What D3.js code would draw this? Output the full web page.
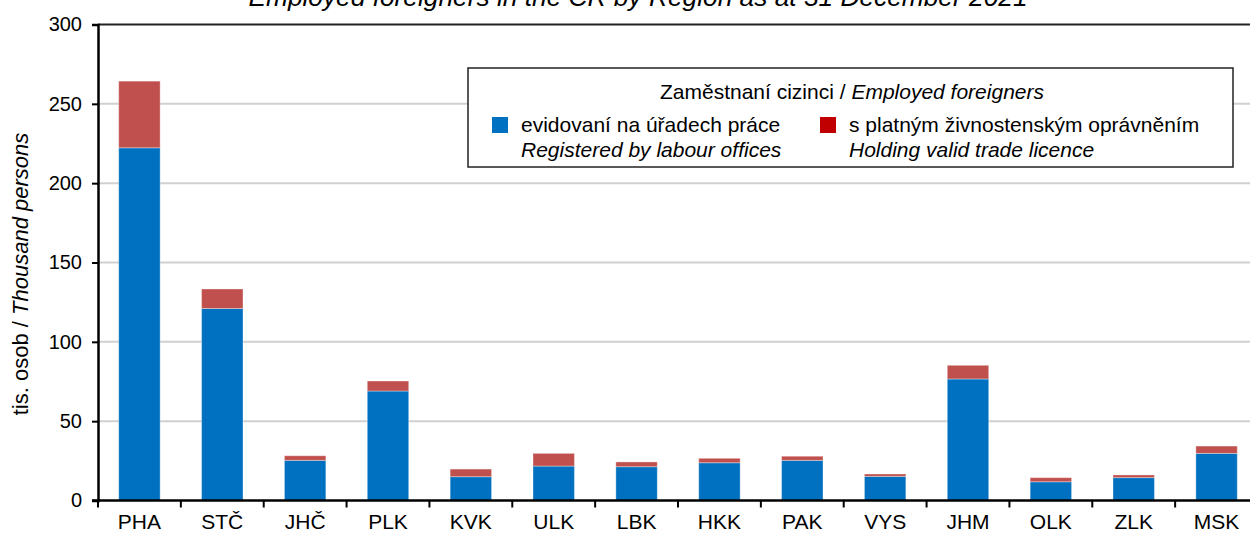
<!DOCTYPE html>
<html>
<head>
<meta charset="utf-8">
<script src="https://cdn.jsdelivr.net/npm/d3@7"></script>
<style>
  body { margin: 0; background: #fff; }
  svg { display: block; font-family: "Liberation Sans", Arial, sans-serif; }
</style>
</head>
<body>
<div id="chart"></div>
<script>
// regions (Czech abbreviations)
var regions = ["PHA", "STČ", "JHČ", "PLK", "KVK", "ULK", "LBK", "HKK", "PAK", "VYS", "JHM", "OLK", "ZLK", "MSK"];
// thousand persons, registered by labour offices
var registered = [222.3, 121.0, 25.3, 69.0, 15.0, 21.7, 21.3, 23.8, 25.3, 15.2, 76.6, 11.8, 14.4, 29.7];
// thousand persons, holding valid trade licence
var tradeLicence = [42.0, 12.3, 2.9, 6.3, 4.8, 8.0, 3.0, 2.8, 2.6, 1.5, 8.6, 2.6, 1.7, 4.6];
var yTicks = [0, 50, 100, 150, 200, 250, 300];

var width = 1250, height = 534;
var mLeft = 98, mTop = 24.5, mBottom = 500.5, mRight = 1258;

var blue = "#0070C0", red = "#C0504D";

var svg = d3.select("#chart").append("svg")
  .attr("width", width)
  .attr("height", height);

var x = d3.scaleBand()
  .domain(regions)
  .range([mLeft, mRight])
  .paddingInner(0.5)
  .paddingOuter(0.25);

var y = d3.scaleLinear()
  .domain([0, 300])
  .range([mBottom, mTop]);

/* title (cropped at top, as in the source) */
svg.append("text")
  .attr("x", 638)
  .attr("y", 6)
  .attr("text-anchor", "middle")
  .style("font-size", "26.3px")
  .style("font-style", "italic")
  .text("Employed foreigners in the CR by Region as at 31 December 2021");

/* gridlines */
svg.append("g")
  .selectAll("line")
  .data(yTicks.filter(d => d > 0 && d < 300))
  .enter().append("line")
  .attr("x1", mLeft)
  .attr("x2", width)
  .attr("y1", d => y(d))
  .attr("y2", d => y(d))
  .attr("stroke", "#d0d0d0")
  .attr("stroke-width", 2);

/* top border line */
svg.append("line")
  .attr("x1", mLeft).attr("x2", width)
  .attr("y1", y(300)).attr("y2", y(300))
  .attr("stroke", "#222")
  .attr("stroke-width", 2);

/* stacked bars */
var stackData = regions.map((r, i) => ({region: r, reg: registered[i], lic: tradeLicence[i]}));
var stack = d3.stack().keys(["reg", "lic"])(stackData);
var colors = {reg: blue, lic: red};

svg.append("g")
  .selectAll("g")
  .data(stack).enter()
  .append("g")
  .attr("fill", d => colors[d.key])
  .selectAll("rect")
  .data(d => d).enter()
  .append("rect")
  .attr("x", d => x(d.data.region))
  .attr("width", x.bandwidth())
  .attr("y", d => y(d[1]))
  .attr("height", d => y(d[0]) - y(d[1]))
  .attr("stroke", "rgba(255,255,255,0.35)")
  .attr("stroke-width", 1);

/* axes */
var yAxis = d3.axisLeft(y).tickValues(yTicks).tickSize(6).tickPadding(10);
var gy = svg.append("g")
  .attr("transform", `translate(${mLeft},0)`)
  .call(yAxis);
gy.select(".domain").attr("stroke", "#000").attr("stroke-width", 2.5);
gy.selectAll(".tick line").attr("stroke", "#000").attr("stroke-width", 2);
gy.selectAll("text")
  .style("font-size", "20px")
  .style("font-family", "Liberation Sans, Arial, sans-serif")
  .attr("fill", "#000");

var gx = svg.append("g")
  .attr("transform", `translate(0,${mBottom})`)
  .call(d3.axisBottom(x).tickSize(0).tickPadding(14));
gx.select(".domain").remove();
gx.selectAll("text")
  .style("font-size", "21px")
  .style("font-family", "Liberation Sans, Arial, sans-serif")
  .attr("fill", "#000");

svg.append("line")
  .attr("x1", mLeft - 6).attr("x2", width)
  .attr("y1", mBottom).attr("y2", mBottom)
  .attr("stroke", "#000").attr("stroke-width", 2.5);

// tick marks on category boundaries
var step = x.step();
var boundaries = d3.range(regions.length + 1).map(i => mLeft + i * step);
svg.append("g")
  .selectAll("line")
  .data(boundaries).enter()
  .append("line")
  .attr("x1", d => d).attr("x2", d => d)
  .attr("y1", mBottom).attr("y2", mBottom + 7)
  .attr("stroke", "#000").attr("stroke-width", 2);

/* y label */
var ylab = svg.append("text")
  .attr("transform", "translate(28,274) rotate(-90)")
  .attr("text-anchor", "middle")
  .style("font-size", "22px");
ylab.append("tspan").text("tis. osob / ");
ylab.append("tspan").style("font-style", "italic").text("Thousand persons");

/* legend */
var lg = svg.append("g");
lg.append("rect")
  .attr("x", 468).attr("y", 68)
  .attr("width", 765).attr("height", 99)
  .attr("fill", "#fff")
  .attr("stroke", "#222").attr("stroke-width", 1.5);

var lt = lg.append("text")
  .attr("x", 852).attr("y", 99)
  .attr("text-anchor", "middle")
  .style("font-size", "21px");
lt.append("tspan").text("Zaměstnaní cizinci / ");
lt.append("tspan").style("font-style", "italic").text("Employed foreigners");

var items = [
  {color: blue, x: 492, cz: "evidovaní na úřadech práce", en: "Registered by labour offices"},
  {color: "#C00000", x: 820, cz: "s platným živnostenským oprávněním", en: "Holding valid trade licence"}
];
var li = lg.selectAll(".item").data(items).enter().append("g").attr("class", "item");
li.append("rect")
  .attr("x", d => d.x).attr("y", 117)
  .attr("width", 16).attr("height", 16)
  .attr("fill", d => d.color);
li.append("text")
  .attr("x", d => d.x + 29).attr("y", 132)
  .style("font-size", "21px")
  .text(d => d.cz);
li.append("text")
  .attr("x", d => d.x + 29).attr("y", 157)
  .style("font-size", "21px")
  .style("font-style", "italic")
  .text(d => d.en);
</script>
</body>
</html>
